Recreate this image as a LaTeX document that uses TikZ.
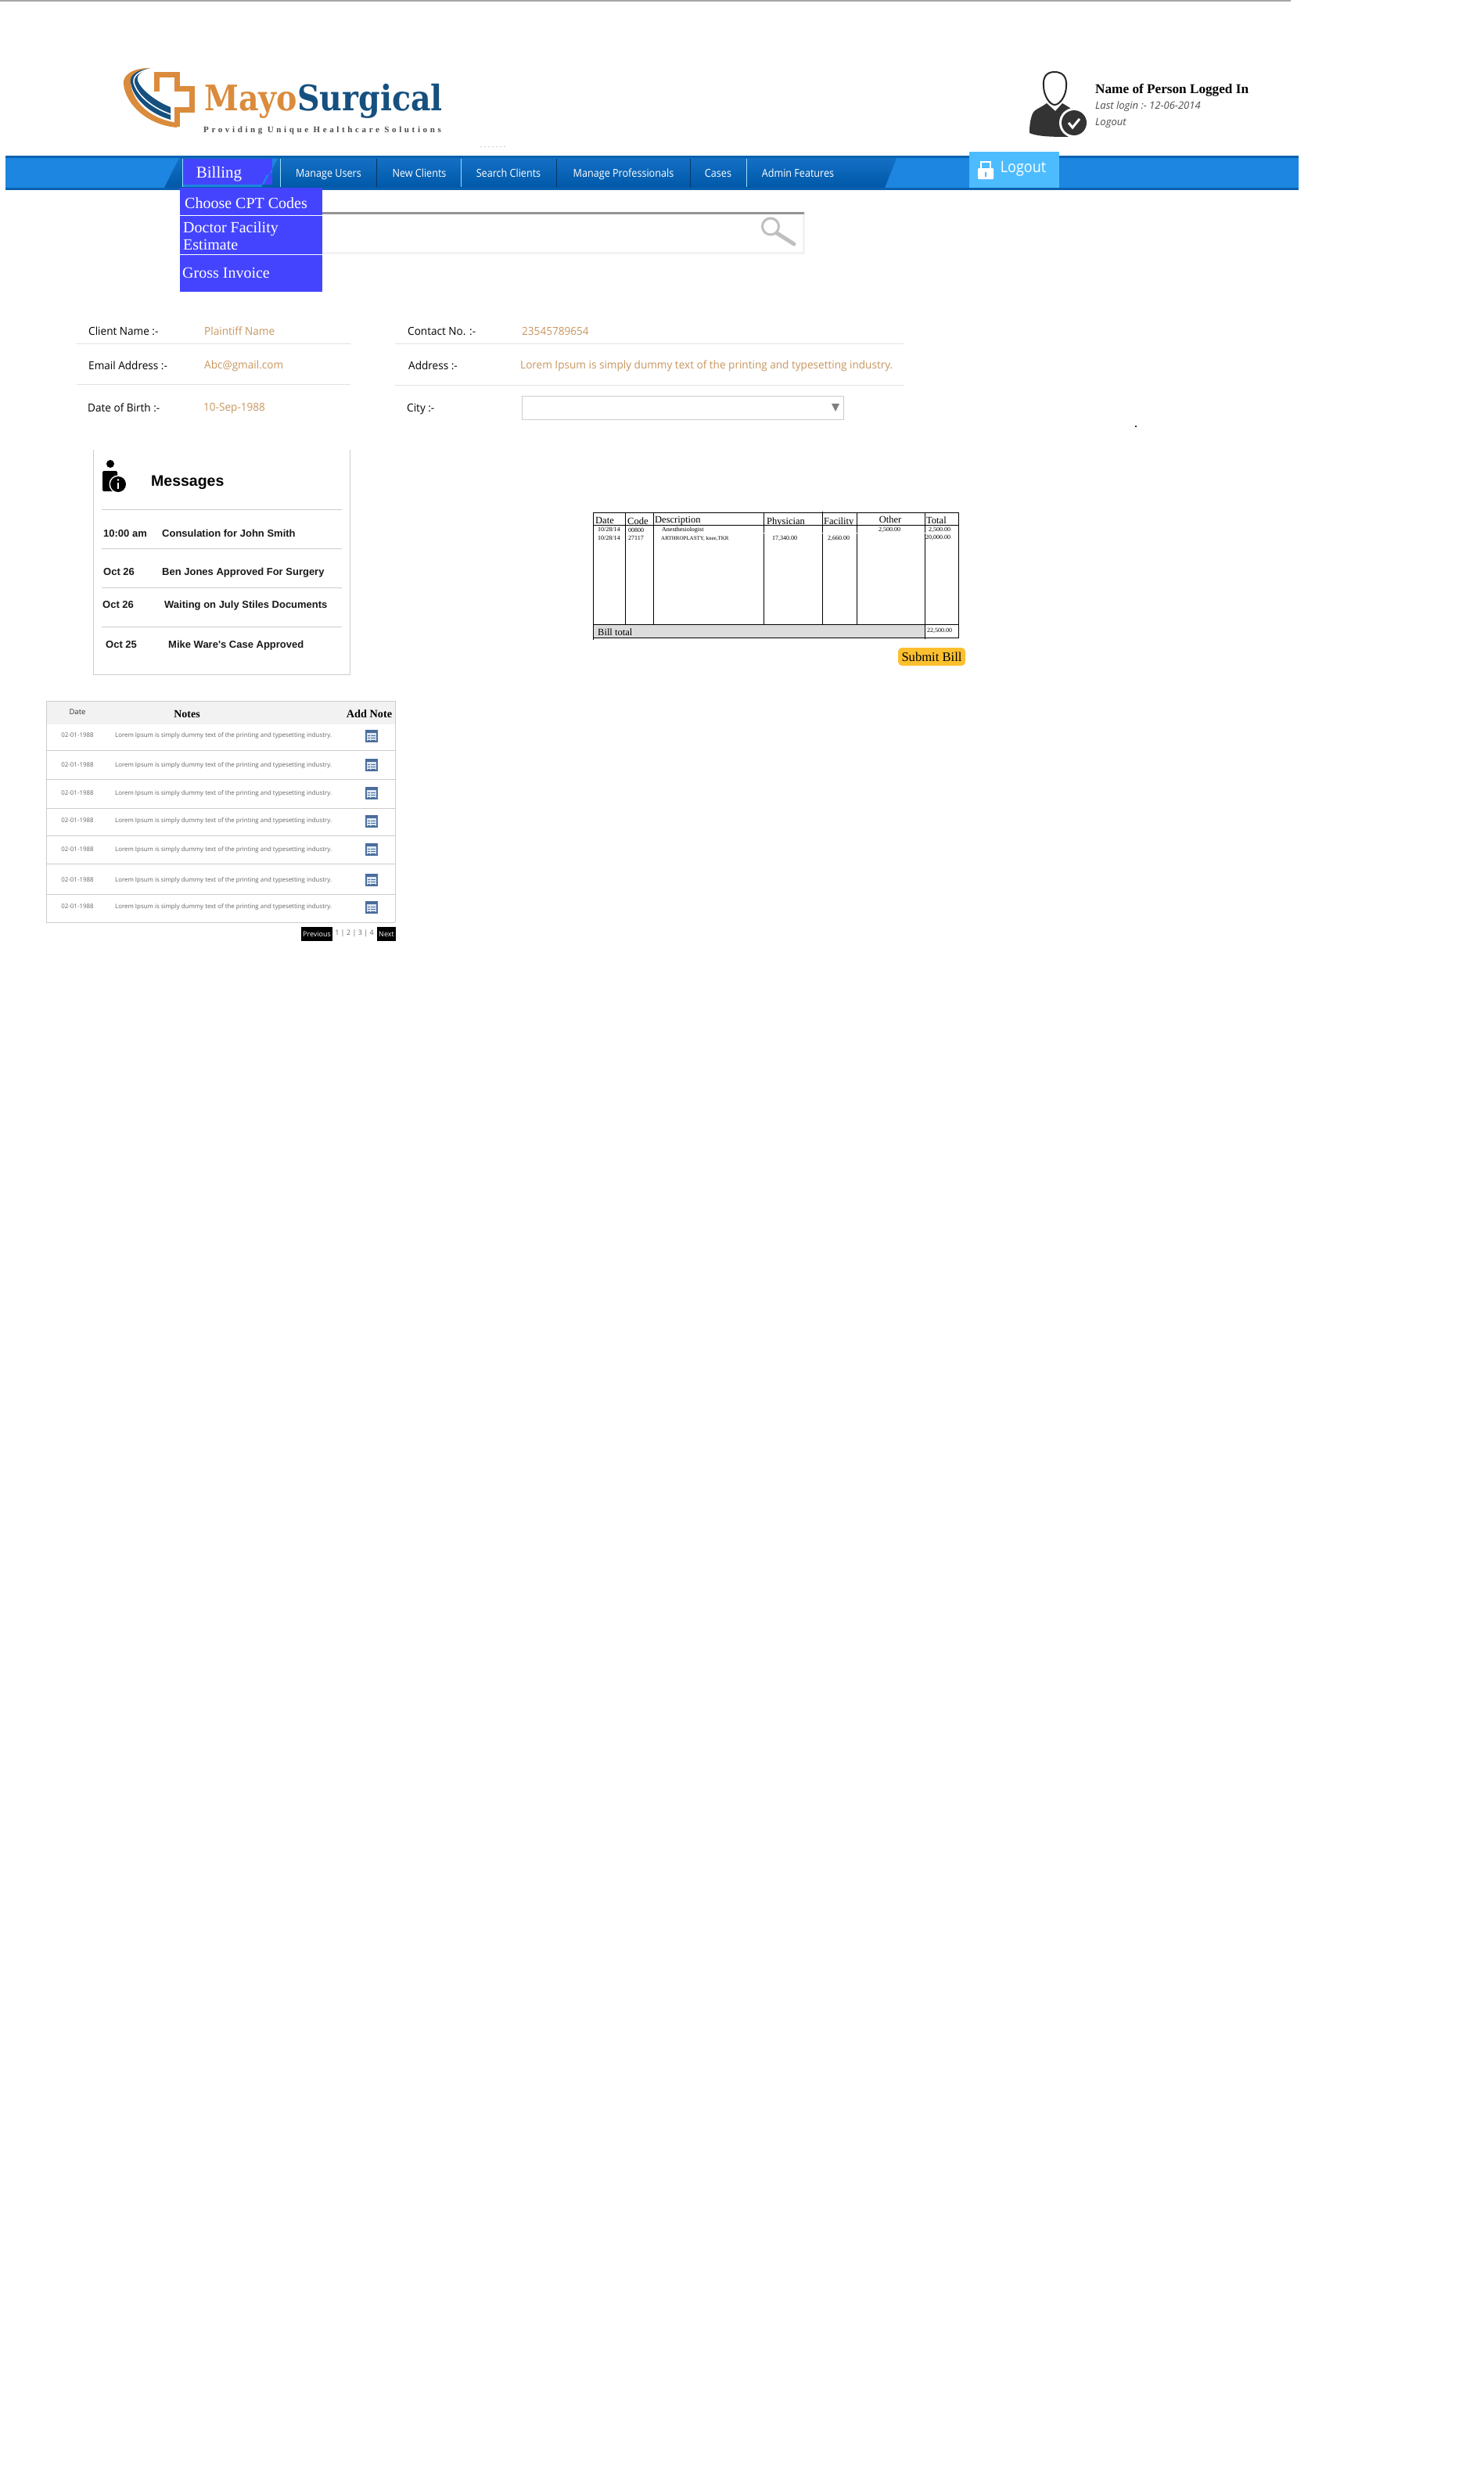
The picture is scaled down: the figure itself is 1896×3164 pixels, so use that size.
\documentclass[tikz,border=0pt]{standalone}
\usepackage{fontspec}
\usepackage{graphicx}
\setmainfont{Liberation Serif}
\newfontfamily\osans{Open Sans}
\newfontfamily\arsans{Liberation Sans}
\newfontfamily\dserif{DejaVu Serif}
\newcommand\fz[1]{\fontsize{#1}{#1}\selectfont}
\definecolor{barlight}{HTML}{1C86E0}
\definecolor{bardark}{HTML}{0B62B0}
\definecolor{gradtop}{HTML}{1470C5}
\definecolor{gradbot}{HTML}{0058A8}
\definecolor{menublue}{HTML}{4444FF}
\definecolor{logoorange}{HTML}{DB8B3C}
\definecolor{logoblue}{HTML}{15507F}
\definecolor{tan}{HTML}{C8965F}
\definecolor{rulegray}{HTML}{E2E2E2}
\definecolor{boxgray}{HTML}{CCCCCC}
\definecolor{logoutblue}{HTML}{4DBCFF}
\definecolor{billgray}{HTML}{DCDCDC}
\definecolor{submitgold}{HTML}{FCC02E}
\definecolor{headbg}{HTML}{F2F2F2}
\definecolor{iconblue}{HTML}{4A6D9C}
\definecolor{iconfill}{HTML}{DCE7F2}
\tikzset{
  lab/.style={anchor=west,inner sep=0pt,text height=12pt,text depth=2pt,font=\osans\fz{14}\addfontfeature{FakeStretch=0.97},text=black},
  val/.style={lab,text=tan},
  navt/.style={inner sep=0pt,text height=12pt,text depth=2pt,font=\osans\fz{14}\addfontfeature{FakeStretch=0.9},text=white},
  menut/.style={anchor=west,inner sep=0pt,text height=14pt,text depth=3pt,font=\fz{20},text=white},
  msg/.style={anchor=west,inner sep=0pt,text height=11pt,text depth=2pt,font=\arsans\bfseries\fz{13},text=black!90},
  hdr/.style={anchor=west,inner sep=0pt,text height=10pt,text depth=1.5pt,font=\fz{12.5},text=black},
  cell/.style={anchor=west,inner sep=0pt,text height=6.5pt,text depth=1pt,font=\fz{8},text=black},
  notet/.style={inner sep=0pt,text height=7pt,text depth=1pt,font=\osans\fz{7.9},text=black!60},
  pagebtn/.style={fill=black,text=white,inner sep=0pt,font=\osans\fz{9}},
  tline/.style={line width=.9pt,black},
}
\begin{document}
\begin{tikzpicture}[x=1pt,y=-1pt]
\useasboundingbox (0,0) rectangle (1896,3164);
\fill[white] (0,0) rectangle (1896,3164);
% top rule
\fill[black!35] (0,0) rectangle (1650,1.5);
% logo
\fill[logoorange] (195,87) .. controls (170,86) and (156,96) .. (158,108) .. controls (161,135) and (190,160) .. (226,163) -- (226,157) .. controls (195,152) and (172,135) .. (167,108) .. controls (165,98) and (175,90) .. (195,87) -- cycle;
\draw[logoorange,line width=7pt,line join=miter] (200,117) -- (200,95.5) -- (226.5,95.5) -- (226.5,113) -- (245.5,113) -- (245.5,140.5) -- (226.5,140.5) -- (226.5,162);
\fill[logoblue] (197,87) .. controls (175,88) and (165,96) .. (167,106) .. controls (170,125) and (190,145) .. (218,153) -- (218,137) .. controls (200,130) and (180,115) .. (176,103) .. controls (174,95) and (182,90) .. (197,87) -- cycle;
\draw[white,line width=1.5pt] (197,87) .. controls (178,90) and (170,97) .. (171,105) .. controls (175,122) and (195,138) .. (218,146);
\node[anchor=west,inner sep=0pt] (logotext) at (261,129) {\scalebox{.88}[1]{\dserif\bfseries\fz{45}\textcolor{logoorange}{Mayo}\textcolor{logoblue}{Surgical}}};
\node[anchor=west,inner sep=0pt,text=black!70] (tagline) at (260,167) {\bfseries\fz{11}\addfontfeature{LetterSpace=33}Providing Unique Healthcare Solutions};
\draw[black!20,dash pattern=on 1.5pt off 3.5pt,line width=1pt] (614,187) -- (647,187);
% user
\fill[black!80] (1338,132) .. controls (1330,138) and (1322,140) .. (1320,145) .. controls (1316,155) and (1316,165) .. (1316,170) .. controls (1325,174) and (1340,175) .. (1365,175) -- (1380,150) .. controls (1375,142) and (1365,136) .. (1358,132) -- (1349,142) -- cycle;
\draw[black!85,fill=white,line width=2pt] (1348,92) .. controls (1338,92) and (1333,98) .. (1334,110) .. controls (1334,122) and (1342,134) .. (1348,134) .. controls (1355,134) and (1363,122) .. (1363,110) .. controls (1364,98) and (1358,92) .. (1348,92) -- cycle;
\fill[white] (1373,157) circle (19);
\fill[black!80] (1373,157) circle (16);
\draw[white,line width=3pt] (1366,157) -- (1371,163) -- (1380,152);
\node[anchor=west,inner sep=0pt,font=\bfseries\fz{17.2}] (uname) at (1400,115) {Name of Person Logged In};
\node[anchor=west,inner sep=0pt,font=\osans\itshape\fz{13},text=black!70] (ulast) at (1400,136.5) {Last login :- 12-06-2014};
\node[anchor=west,inner sep=0pt,font=\osans\itshape\fz{13},text=black!70] (ulogout) at (1400,157) {Logout};
% nav bar
\fill[bardark] (7,199) rectangle (1660,243);
\fill[barlight] (7,202) rectangle (1660,240);
\shade[top color=gradtop,bottom color=gradbot] (229,202) -- (1146,202) -- (1131,240) -- (210,240) -- cycle;
\fill[menublue] (233,203) rectangle (348,236);
\fill[barlight] (233,236) rectangle (335,239);
\fill[barlight] (348,203) -- (355,203) -- (337,236) -- (335,236) -- (340,225) -- (348,220) -- cycle;
\foreach \x in {358,589,954,233}{\draw[cyan!40!white,line width=1pt] (\x,203) -- (\x,239);}
\foreach \x in {481,711,882}{\draw[black!40!gradbot,line width=1pt] (\x,203) -- (\x,239);}
\node[inner sep=0pt,font=\fz{21},text=white] (nbilling) at (280,222) {Billing};
\node[navt] (n1) at (420,221) {Manage Users};
\node[navt] (n2) at (536,221) {New Clients};
\node[navt] (n3) at (650,221) {Search Clients};
\node[navt] (n4) at (797,221) {Manage Professionals};
\node[navt] (n5) at (918,221) {Cases};
\node[navt] (n6) at (1020,221) {Admin Features};
% logout
\fill[logoutblue] (1239,194) rectangle (1354,240);
\draw[white,line width=1.5pt] (1254,215) -- (1254,207) -- (1266,207) -- (1266,215);
\fill[white,rounded corners=1pt] (1250,215) rectangle (1270,229);
\fill[logoutblue] (1259,220) rectangle (1261,226);
\node[inner sep=0pt,font=\osans\fz{20}\addfontfeature{FakeStretch=0.9},text=white] (nlogout) at (1308,216) {Logout};
% search box
\fill[black!5] (412,272) rectangle (1029,325);
\fill[white] (412,274) rectangle (1026,322);
\fill[black!42] (412,271) rectangle (1028,274);
\draw[black!25,line width=3pt] (985,289.5) circle (10.5);
\draw[black!25,line width=5pt,line cap=round] (993,298) -- (1015,312);
% dropdown
\fill[menublue] (230,240) rectangle (412,373);
\draw[white,line width=1pt] (230,275) -- (412,275);
\draw[white,line width=1pt] (230,325) -- (412,325);
\node[menut] (m1) at (236,261) {Choose CPT Codes};
\node[menut] (m2) at (234,292) {Doctor Facility};
\node[menut] (m3) at (234,314) {Estimate};
\node[menut] (m4) at (233,350) {Gross Invoice};
% fields
\foreach \a/\b/\y in {98/448/439,505/1155/439,98/448/491,505/1155/492}{\draw[rulegray,line width=1pt] (\a,\y) -- (\b,\y);}
\node[lab] (f1) at (113,423) {Client Name :-};
\node[val] (v1) at (261,423) {Plaintiff Name};
\node[lab] (f2) at (521,423) {Contact No. :-};
\node[val] (v2) at (667,423) {23545789654};
\node[lab] (f3) at (113,467) {Email Address :-};
\node[val] (v3) at (261,466) {Abc@gmail.com};
\node[lab] (f4) at (522,467) {Address :-};
\node[val] (v4) at (665,466) {Lorem Ipsum is simply dummy text of the printing and typesetting industry.};
\node[lab] (f5) at (112,521) {Date of Birth :-};
\node[val] (v5) at (260,520) {10-Sep-1988};
\node[lab] (f6) at (520,521) {City :-};
\draw[boxgray,fill=white,line width=1pt] (667,506) rectangle (1078,536);
\fill[black!50] (1063,516) -- (1073,516) -- (1068,526) -- cycle;
\fill[black!80] (1451,544) rectangle (1453,546);
% messages
\draw[boxgray,line width=1pt] (119,575) -- (119,862) -- (447,862) -- (447,575);
\foreach \y in {651,701,751,801}{\draw[boxgray,line width=1pt] (130,\y) -- (437,\y);}
\fill[black] (141,593) circle (5);
\fill[black,rounded corners=1.5pt] (131,602) rectangle (150,628);
\fill[white] (151,619) circle (11.5);
\fill[black] (151,619) circle (10);
\fill[white] (151,613.5) circle (1.4);
\fill[white] (150,616.5) rectangle (152.2,625);
\node[anchor=west,inner sep=0pt,font=\arsans\bfseries\fz{19.5}] (mh) at (193,617) {Messages};
\node[msg] (ma) at (132,682) {10:00 am};
\node[msg] (mb) at (207,682) {Consulation for John Smith};
\node[msg] (mc) at (132,731) {Oct 26};
\node[msg] (md) at (207,731) {Ben Jones Approved For Surgery};
\node[msg] (me) at (131,773) {Oct 26};
\node[msg] (mf) at (210,773) {Waiting on July Stiles Documents};
\node[msg] (mg) at (135,824) {Oct 25};
\node[msg] (mi) at (215,824) {Mike Ware's Case Approved};
% bill table
\fill[billgray] (758,798) rectangle (1182,815);
\begin{scope}
\clip (758,655) rectangle (1225,671);
\node[hdr] (b1) at (761,665) {Date};
\node[hdr] (b2) at (802,666) {Code};
\node[hdr] (b3) at (837,664) {Description};
\node[hdr] (b4) at (980,666) {Physician};
\node[hdr] (b5) at (1053,666) {Facility};
\node[hdr,anchor=center] (b6) at (1138,664) {Other};
\node[hdr] (b7) at (1184,665) {Total};
\end{scope}
\draw[tline] (758,655) rectangle (1225,815);
\draw[tline] (758,671) -- (1225,671);
\draw[tline] (758,798) -- (1225,798);
\foreach \x in {799,835,976,1095}{\draw[tline] (\x,655) -- (\x,798);}
\draw[tline] (1051,654) -- (1051,798);
\draw[tline] (1182,655) -- (1182,817);
\draw[tline] (758,815) -- (758,818);
\foreach \x in {976,1051,1095,1182}{\fill[white] (\x-1,680.5) rectangle (\x+1,682);}
\node[cell] (c1) at (764,677) {10/28/14};
\node[cell] (c2) at (764,688) {10/28/14};
\node[cell] (c3) at (803,678) {00800};
\node[cell] (c4) at (803,688) {27117};
\node[cell] (c5) at (846,677) {Anesthesiologist};
\node[cell,font=\fz{7}] (c6) at (845,688) {ARTHROPLASTY, knee,TKR};
\node[cell] (c7) at (987,688) {17,340.00};
\node[cell] (c8) at (1058,688) {2,660.00};
\node[cell] (c9) at (1123,677) {2,500.00};
\node[cell] (c10) at (1187,677) {2,500.00};
\node[cell] (c11) at (1183,687) {20,000.00};
\node[cell] (c12) at (1185,806) {22,500.00};
\node[hdr] (btot) at (764,808) {Bill total};
\node[fill=submitgold,rounded corners=5pt,minimum width=86pt,minimum height=23pt,inner sep=0pt,font=\fz{16.6}] (submit) at (1191,839.5) {Submit Bill};
% notes table
\fill[headbg] (59,896) rectangle (505,926);
\draw[boxgray,line width=1pt] (59,1179) -- (59,896) -- (505,896) -- (505,1179);
\foreach \y in {959,996,1033,1068,1104,1143,1179}{\draw[boxgray,line width=.8pt] (59,\y) -- (505,\y);}
\node[inner sep=0pt,font=\osans\fz{9.5},text=black!80] (dh) at (99,910) {Date};
\node[inner sep=0pt,font=\bfseries\fz{14}] (nh) at (239,913) {Notes};
\node[inner sep=0pt,font=\bfseries\fz{14.3}] (ah) at (472,913) {Add Note};
\foreach \i/\ty/\iy in {1/939/941,2/977/978,3/1013/1014,4/1048/1050,5/1085/1086,6/1124/1125,7/1158/1160}{
  \node[notet] (nd\i) at (99,\ty) {02-01-1988};
  \node[notet,anchor=west] (nl\i) at (147,\ty) {Lorem Ipsum is simply dummy text of the printing and typesetting industry.};
  \draw[iconblue,fill=iconfill,line width=1.2pt] (468,\iy-7) rectangle (482,\iy+7);
  \fill[iconblue] (468,\iy-7) rectangle (482,\iy-4);
  \foreach \d in {-1,2.5,5.5}{\draw[iconblue,line width=.7pt] (470,\iy+\d) -- (472.5,\iy+\d) (474,\iy+\d) -- (480,\iy+\d);}
}
\node[pagebtn,minimum width=40pt,minimum height=18pt] (prev) at (405,1194) {Previous};
\node[inner sep=0pt,font=\osans\fz{9},text=black!60] (pg) at (453,1193) {1 | 2 | 3 | 4};
\node[pagebtn,minimum width=24pt,minimum height=18pt] (next) at (494,1194) {Next};
\end{tikzpicture}
\end{document}
